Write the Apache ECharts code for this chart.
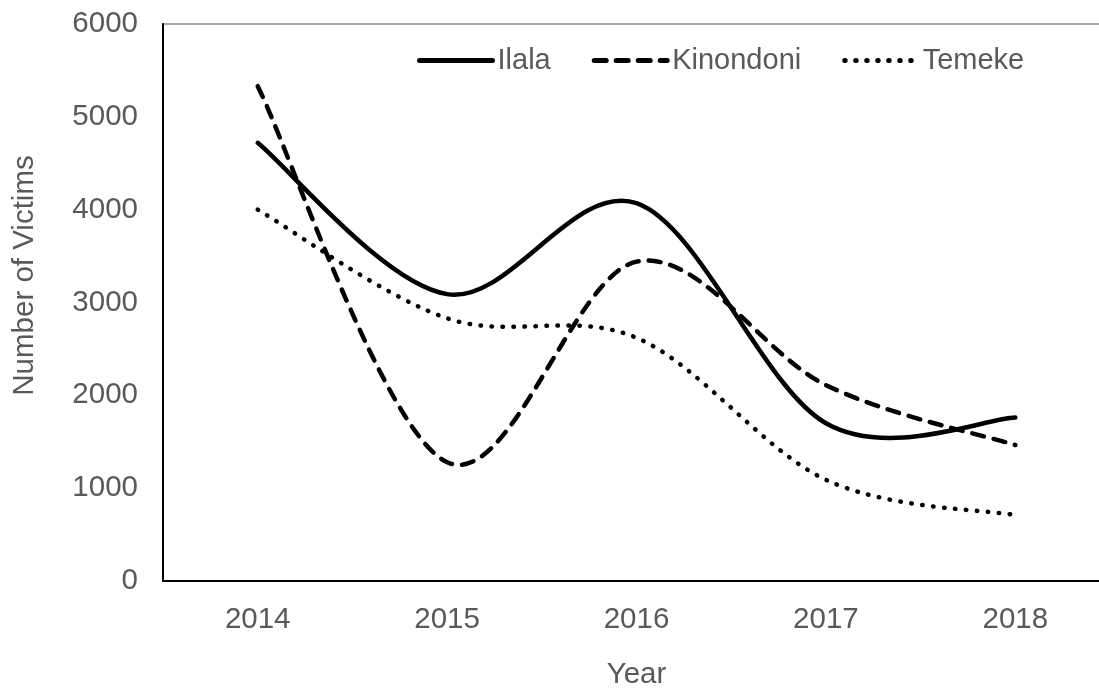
<!DOCTYPE html>
<html>
<head>
<meta charset="utf-8">
<script src="https://cdn.jsdelivr.net/npm/echarts@6/dist/echarts.min.js"></script>
<style>
html,body{margin:0;padding:0;background:#fff;overflow:hidden;}
#chart{width:1110px;height:689px;}
</style>
</head>
<body>
<div id="chart"></div>
<script>
const years = ['2014', '2015', '2016', '2017', '2018'];
const ilala = [4720, 3090, 4070, 1700, 1760];
const kinondoni = [5330, 1280, 3440, 2110, 1465];
const temeke = [4000, 2830, 2620, 1090, 710];
const yTicks = [0, 1000, 2000, 3000, 4000, 5000, 6000];

const FONT = '"Liberation Sans", Arial, sans-serif';
const TXT = '#595959';
const LW = 4.5;
const DASH = [12, 10];
const DOT = [0.5, 10.5];

const chart = echarts.init(document.getElementById('chart'));

// Smoothed curve (Catmull-Rom style, like the spreadsheet's smoothing), drawn from the
// data values through the axis scales (api.coord).
function curveSeries(name, values, dash) {
  return {
    name: name,
    type: 'custom',
    coordinateSystem: 'cartesian2d',
    data: values.map((v, i) => [i, v]),
    encode: { x: 0, y: 1 },
    z: 3,
    renderItem: function (params, api) {
      if (params.dataIndex !== 0) return null;
      const pts = values.map((v, i) => api.coord([i, v]));
      const n = pts.length;
      let d = 'M' + pts[0][0] + ' ' + pts[0][1];
      for (let i = 0; i < n - 1; i++) {
        const p0 = pts[Math.max(i - 1, 0)];
        const p1 = pts[i];
        const p2 = pts[i + 1];
        const p3 = pts[Math.min(i + 2, n - 1)];
        const c1x = p1[0] + (p2[0] - p0[0]) / 6;
        const c1y = p1[1] + (p2[1] - p0[1]) / 6;
        const c2x = p2[0] - (p3[0] - p1[0]) / 6;
        const c2y = p2[1] - (p3[1] - p1[1]) / 6;
        d += ' C' + c1x + ' ' + c1y + ' ' + c2x + ' ' + c2y + ' ' + p2[0] + ' ' + p2[1];
      }
      return {
        type: 'path',
        shape: { pathData: d },
        style: {
          fill: null,
          stroke: '#000',
          lineWidth: LW,
          lineDash: dash,
          lineCap: 'round',
          lineJoin: 'round'
        },
        silent: true
      };
    }
  };
}

// Empty line series only to give the legend line-style icons.
function legendSeries(name, type) {
  return {
    name: name,
    type: 'line',
    data: [],
    symbol: 'none',
    lineStyle: { color: '#000', width: LW, type: type, cap: 'round' },
    itemStyle: { color: '#000' }
  };
}

function legendItem(name, type) {
  return {
    name: name,
    itemStyle: { opacity: 0, color: 'rgba(0,0,0,0)', borderWidth: 0 },
    lineStyle: { color: '#000', width: 5, type: type, cap: 'round' }
  };
}

chart.setOption({
  animation: false,
  backgroundColor: '#fff',
  grid: {
    left: 163, top: 24, right: 0, bottom: 108,
    outerBoundsMode: 'none',
    containLabel: false,
    show: true, borderColor: '#8a8a8a', borderWidth: 1.5, backgroundColor: 'transparent'
  },
  legend: {
    left: 417, top: 46, padding: 0,
    itemWidth: 73, itemHeight: 14, itemGap: 41,
    textStyle: { fontFamily: FONT, fontSize: 29, color: TXT },
    data: [
      legendItem('Ilala', 'solid'),
      legendItem('Kinondoni', DASH),
      legendItem('Temeke', DOT)
    ]
  },
  xAxis: {
    type: 'category',
    data: years,
    boundaryGap: true,
    axisLine: { lineStyle: { color: '#000', width: 2 } },
    axisTick: { show: false },
    axisLabel: { fontFamily: FONT, fontSize: 29.5, color: TXT, margin: 24 },
    name: 'Year',
    nameLocation: 'middle',
    nameGap: 79,
    nameTextStyle: { fontFamily: FONT, fontSize: 29.5, color: TXT }
  },
  yAxis: {
    type: 'value',
    min: yTicks[0], max: yTicks[yTicks.length - 1], interval: 1000,
    axisLine: { show: true, lineStyle: { color: '#000', width: 2 } },
    axisTick: { show: false },
    splitLine: { show: false },
    axisLabel: {
      fontFamily: FONT, fontSize: 29.5, color: TXT, margin: 25,
      formatter: function (v) { return String(v); }
    },
    name: 'Number of Victims',
    nameLocation: 'middle',
    nameRotate: 90,
    nameGap: 123,
    nameTextStyle: { fontFamily: FONT, fontSize: 29.5, color: TXT, padding: [0, 0, 0, 54] }
  },
  series: [
    legendSeries('Ilala', 'solid'),
    legendSeries('Kinondoni', DASH),
    legendSeries('Temeke', DOT),
    curveSeries('Ilala', ilala, null),
    curveSeries('Kinondoni', kinondoni, DASH),
    curveSeries('Temeke', temeke, DOT)
  ]
});
</script>
</body>
</html>
